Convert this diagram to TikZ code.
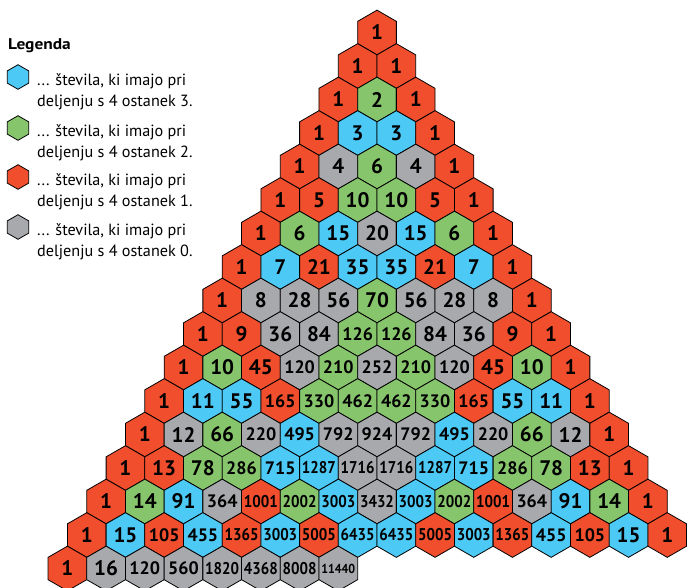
\documentclass[tikz,border=0pt]{standalone}
\usepackage{fontspec}
\setmainfont{PT Sans}
\usepackage{graphicx}
\definecolor{c0}{HTML}{A7A9AC}
\definecolor{c1}{HTML}{F04E2D}
\definecolor{c2}{HTML}{87C56C}
\definecolor{c3}{HTML}{4DC9F6}
\newcommand\numfmt[1]{%
  \ifnum#1<100 \fontsize{21}{21}\selectfont #1%
  \else\ifnum#1<1000 \fontsize{18}{18}\selectfont #1%
  \else\ifnum#1<10000 \fontsize{17}{17}\selectfont\scalebox{0.88}[1]{#1}%
  \else \fontsize{13}{13}\selectfont\scalebox{0.92}[1]{#1}\fi\fi\fi}
\begin{document}
\begin{tikzpicture}[x=1pt,y=-1pt,
  hexline/.style={draw=black,line width=0.8pt,line join=miter},
  numtext/.style={inner sep=0pt,font=\bfseries},
  legtext/.style={inner sep=0pt,anchor=base west,font=\fontsize{16.2}{16.2}\selectfont}]
\useasboundingbox (0,0) rectangle (687,587);
\def\R{22.34}
\foreach \row [count=\n from 0] in {
 {1},{1,1},{1,2,1},{1,3,3,1},{1,4,6,4,1},{1,5,10,10,5,1},
 {1,6,15,20,15,6,1},{1,7,21,35,35,21,7,1},{1,8,28,56,70,56,28,8,1},
 {1,9,36,84,126,126,84,36,9,1},{1,10,45,120,210,252,210,120,45,10,1},
 {1,11,55,165,330,462,462,330,165,55,11,1},
 {1,12,66,220,495,792,924,792,495,220,66,12,1},
 {1,13,78,286,715,1287,1716,1716,1287,715,286,78,13,1},
 {1,14,91,364,1001,2002,3003,3432,3003,2002,1001,364,91,14,1},
 {1,15,105,455,1365,3003,5005,6435,6435,5005,3003,1365,455,105,15,1},
 {1,16,120,560,1820,4368,8008,11440}} {
  \foreach \v [count=\k from 0] in \row {
    \pgfmathsetmacro\xx{377+(\k-\n/2)*38.7}
    \pgfmathsetmacro\yy{32.5+33.5*\n}
    \pgfmathtruncatemacro\rr{mod(\v,4)}
    \draw[hexline,fill=c\rr] (\xx,\yy) +(30:\R) -- +(90:\R) -- +(150:\R) -- +(210:\R) -- +(270:\R) -- +(330:\R) -- cycle;
    \node[numtext] (h\n-\k) at (\xx,\yy) {\numfmt{\v}};
  }
}
% legend
\node[inner sep=0pt,anchor=base west,font=\bfseries\fontsize{15.5}{15.5}\selectfont] (leg) at (8,49.5) {\scalebox{1.12}[1]{Legenda}};
\foreach \c/\yy [count=\i] in {3/77,2/128,1/177,0/227} {
  \draw[hexline,fill=c\c] (18,\yy) +(30:12.3) -- +(90:12.3) -- +(150:12.3) -- +(210:12.3) -- +(270:12.3) -- +(330:12.3) -- cycle;
  \node[legtext] (la\i) at (37,\yy+8) {... števila, ki imajo pri};
  \node[legtext] (lb\i) at (37,\yy+29) {deljenju s 4 ostanek \c.};
}
\end{tikzpicture}
\end{document}
